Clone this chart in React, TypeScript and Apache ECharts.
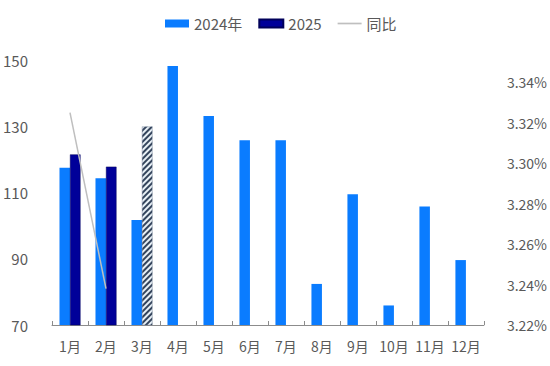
import React, { useEffect, useRef } from "react";
import * as echarts from "echarts";

const categories = ["1月", "2月", "3月", "4月", "5月", "6月", "7月", "8月", "9月", "10月", "11月", "12月"];
const values2024 = [117.5, 114.3, 101.7, 148.2, 133.1, 125.8, 125.8, 82.4, 109.5, 75.9, 105.8, 89.6];
const values2025: (number | null)[] = [121.5, 117.8, 129.9, null, null, null, null, null, null, null, null, null];
const hatchedIndex = 2;
const yoy: (number | null)[] = [3.325, 3.238, null, null, null, null, null, null, null, null, null, null];

const FONT = "'Noto Sans CJK SC', 'Noto Sans', sans-serif";
const TEXT = "#595959";

export default function App() {
  const ref = useRef<HTMLDivElement>(null);
  useEffect(() => {
    if (!ref.current) return;
    const chart = echarts.init(ref.current, null, { renderer: "svg" });
    const data2025 = values2025.map((v, i) =>
      i === hatchedIndex
        ? {
            value: v,
            itemStyle: {
              color: "#e8f0f6",
              borderColor: "#6b7a90",
              borderWidth: 0.5,
              borderType: "dotted",
              decal: {
                symbol: "rect",
                symbolSize: 1,
                color: "#34445c",
                rotation: -Math.PI / 4,
                dashArrayX: [1, 0],
                dashArrayY: [1.3, 1.8],
              },
            },
          }
        : v
    );
    chart.setOption({
      animation: false,
      textStyle: { fontFamily: FONT },
      legend: {
        top: 11,
        left: 160,
        itemWidth: 24,
        itemHeight: 8,
        itemGap: 16,
        textStyle: { color: TEXT, fontSize: 15, fontFamily: FONT },
        data: [
          { name: "2024年", icon: "rect" },
          { name: "2025", icon: "rect" },
          { name: "同比", icon: "path://M2,3.4h20v1.4h-20z" },
        ],
      },
      grid: { left: 52, right: 63, top: 60, bottom: 41, containLabel: false },
      xAxis: {
        type: "category",
        data: categories,
        axisLine: { show: true, lineStyle: { color: "#8c8c8c", width: 1 } },
        axisTick: { show: true, inside: true, length: 4, lineStyle: { color: "#8c8c8c" } },
        axisLabel: { color: TEXT, fontSize: 14, margin: 14, interval: 0, fontFamily: FONT },
      },
      yAxis: [
        {
          type: "value",
          min: 70,
          max: 150,
          interval: 20,
          splitLine: { show: false },
          axisLine: { show: false },
          axisTick: { show: false },
          axisLabel: { color: TEXT, fontSize: 15, margin: 24, fontFamily: FONT },
        },
        {
          type: "value",
          min: 3.22,
          max: 3.351,
          interval: 0.02,
          splitLine: { show: false },
          axisLine: { show: false },
          axisTick: { show: false },
          axisLabel: {
            color: TEXT,
            fontSize: 14,
            margin: 23,
            showMaxLabel: false,
            fontFamily: FONT,
            formatter: (v: number) => v.toFixed(2) + "%",
          },
        },
      ],
      series: [
        {
          name: "2024年",
          type: "bar",
          data: values2024,
          barWidth: 10.5,
          barGap: "0%",
          itemStyle: { color: "#0a7cff" },
        },
        {
          name: "2025",
          type: "bar",
          data: data2025,
          barWidth: 10.5,
          itemStyle: { color: "#000099", borderColor: "#00005a", borderWidth: 0.5 },
        },
        {
          name: "同比",
          type: "line",
          yAxisIndex: 1,
          data: yoy,
          symbol: "none",
          lineStyle: { color: "#bfbfbf", width: 1.5 },
          itemStyle: { color: "#bfbfbf" },
        },
      ],
    });
    return () => chart.dispose();
  }, []);
  return (
    <div
      ref={ref}
      style={{ position: "absolute", left: 0, top: 0, width: 550, height: 366 }}
    />
  );
}
